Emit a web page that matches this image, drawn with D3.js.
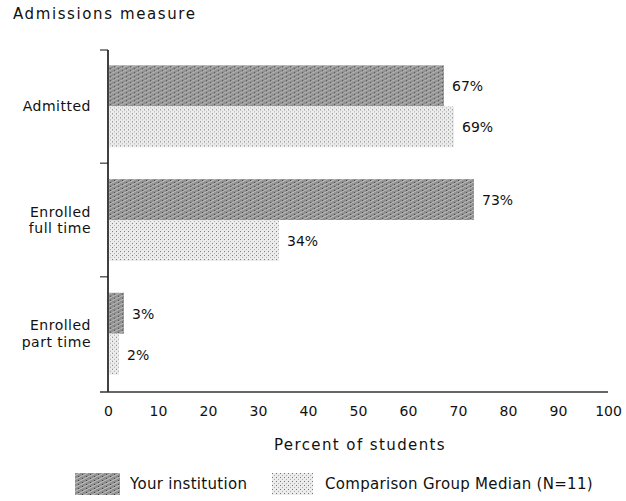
<!DOCTYPE html>
<html><head><meta charset="utf-8">
<script src="https://cdn.jsdelivr.net/npm/d3@7"></script>
<style>
body{margin:0;background:#fff;}
svg text{font-family:"DejaVu Sans",sans-serif;fill:#111;}
</style></head>
<body><svg id="c" width="626" height="501"></svg>
<script>
const categories = [["Admitted"], ["Enrolled", "full time"], ["Enrolled", "part time"]];
const seriesNames = ["Your institution", "Comparison Group Median (N=11)"];
const yourInstitution = [67, 73, 3];
const comparisonMedian = [69, 34, 2];
const xTicks = [0,10,20,30,40,50,60,70,80,90,100];

const svg = d3.select("#c");
const defs = svg.append("defs");
// dark texture
const pd = defs.append("pattern").attr("id","pDark").attr("patternUnits","userSpaceOnUse").attr("width",8).attr("height",4);
pd.append("rect").attr("width",8).attr("height",4).attr("fill","#8f8f8f");
pd.append("path").attr("d","M0,4 L8,0").attr("stroke","#c4c4c4").attr("stroke-width",1);
pd.append("rect").attr("x",2).attr("y",1).attr("width",1).attr("height",1).attr("fill","#444");
pd.append("rect").attr("x",6).attr("y",3).attr("width",1).attr("height",1).attr("fill","#444");
// light texture
const pl = defs.append("pattern").attr("id","pLight").attr("patternUnits","userSpaceOnUse").attr("width",4).attr("height",4);
pl.append("rect").attr("width",4).attr("height",4).attr("fill","#ececec");
pl.append("rect").attr("x",0).attr("y",0).attr("width",1).attr("height",1).attr("fill","#777");
pl.append("rect").attr("x",2).attr("y",2).attr("width",1).attr("height",1).attr("fill","#aaa");
const fills = ["url(#pDark)","url(#pLight)"];

const x = d3.scaleLinear().domain([0,100]).range([108,608]);
const y = d3.scaleBand().domain(d3.range(categories.length)).range([50,390]).paddingInner(0.28).paddingOuter(0.135);
const ys = d3.scaleBand().domain([0,1]).range([0,y.bandwidth()]);

const data = categories.map((c,i)=>({cat:i, vals:[yourInstitution[i], comparisonMedian[i]]}));

svg.append("text").attr("x",13).attr("y",19).attr("font-size",15).attr("letter-spacing",1.6).text("Admissions measure");

const g = svg.selectAll("g.grp").data(data).join("g").attr("transform",d=>`translate(0,${y(d.cat)})`);
g.selectAll("rect").data(d=>d.vals.map((v,k)=>({v,k}))).join("rect")
  .attr("x",x(0)+1).attr("y",d=>ys(d.k)).attr("width",d=>x(d.v)-x(0)).attr("height",ys.bandwidth())
  .attr("fill",d=>fills[d.k]);
g.selectAll("text.val").data(d=>d.vals.map((v,k)=>({v,k}))).join("text").attr("class","val")
  .attr("x",d=>x(d.v)+9).attr("y",d=>ys(d.k)+ys.bandwidth()/2+5.5).attr("font-size",14).text(d=>d.v+"%");

// category labels
categories.forEach((c,i)=>{
  const cy = y(i)+y.bandwidth()/2;
  const t = svg.append("text").attr("x",91).attr("text-anchor","end").attr("font-size",14).attr("letter-spacing",0.5);
  c.forEach((line,j)=>{
    t.append("tspan").attr("x",91).attr("y",cy+5+(j-(c.length-1)/2)*16.5).text(line);
  });
});

// y axis line and ticks
svg.append("line").attr("x1",108).attr("x2",108).attr("y1",50).attr("y2",392).attr("stroke","#111").attr("stroke-width",1.6);
const boundaries = [y.range()[0]].concat(d3.range(1,categories.length).map(i=>y(i)-y.step()*y.paddingInner()/2));
boundaries.forEach(b=>svg.append("line").attr("x1",100).attr("x2",108).attr("y1",b).attr("y2",b).attr("stroke","#111"));

// x axis
const xa = svg.append("g").attr("transform","translate(0,392)").call(d3.axisBottom(x).tickValues(xTicks).tickSize(0).tickPadding(14));
xa.select(".domain").attr("d","M100,0H608").attr("stroke","#333").attr("stroke-width",1.3);
xa.selectAll("text").attr("font-size",14).attr("fill","#111").attr("font-family","DejaVu Sans");

svg.append("text").attr("x",360).attr("y",450).attr("text-anchor","middle").attr("font-size",15).attr("letter-spacing",1.4).text("Percent of students");

// legend
const lg = svg.append("g").attr("transform","translate(0,473)");
const lx = [75,272];
const tx = [130,325];
seriesNames.forEach((s,k)=>{
  lg.append("rect").attr("x",lx[k]).attr("y",0).attr("width",lx[k]===75?45:41).attr("height",22).attr("fill",fills[k]);
  lg.append("text").attr("x",tx[k]).attr("y",16).attr("font-size",15).attr("letter-spacing",0.3).text(s);
});
</script></body></html>
